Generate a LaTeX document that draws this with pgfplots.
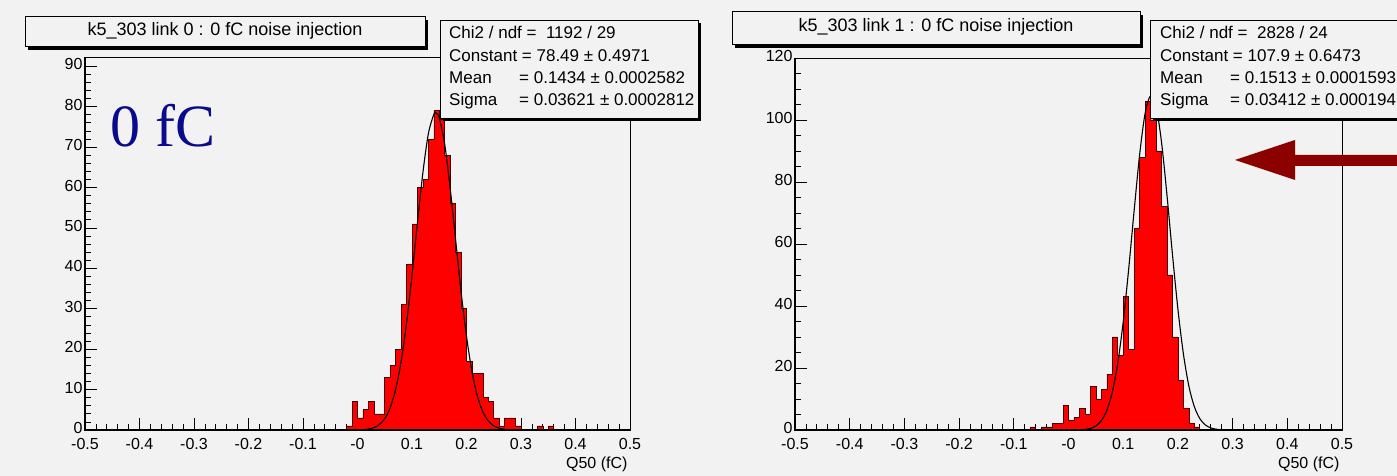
\documentclass[border=0pt]{standalone}
\usepackage{pgfplots}
\pgfplotsset{compat=1.18}
\usepackage{fontspec}
\setmainfont{Liberation Sans}
\newfontfamily\serifbig{Liberation Serif}

\definecolor{padbg}{RGB}{242,242,242}
\definecolor{histred}{RGB}{255,0,0}
\definecolor{histedge}{RGB}{70,0,0}
\definecolor{labelblue}{RGB}{10,10,140}
\definecolor{arrowred}{RGB}{140,0,0}

\newcommand\tickfont{\fontsize{16}{16}\selectfont}
\newcommand\titlefont{\fontsize{18}{18}\selectfont}
\newcommand\statfont{\fontsize{17}{17}\selectfont}

\pgfplotsset{
  rootaxis/.style={
    scale only axis, anchor=south west,
    xmin=-0.5, xmax=0.5, ymin=0,
    axis background/.style={fill=padbg},
    tick align=inside, xtick pos=bottom, ytick pos=left,
    xtick={-0.5,-0.4,-0.3,-0.2,-0.1,0,0.1,0.2,0.3,0.4,0.5},
    xticklabels={-0.5,-0.4,-0.3,-0.2,-0.1,-0,0.1,0.2,0.3,0.4,0.5},
    minor x tick num=4,
    major tick length=12pt, minor tick length=6pt,
    tick style={black, line width=0.8pt},
    axis line style={black, line width=0.7pt},
    tick label style={font=\tickfont},
    /pgf/number format/assume math mode=true,
    xticklabel style={yshift=-5pt},
    yticklabel style={xshift=1pt, yshift=2pt},
  },
  histo/.style={const plot, fill=histred, draw=histedge, line width=0.6pt},
  fitcurve/.style={black, line width=1.1pt, smooth, mark=none},
}

\begin{document}
\begin{tikzpicture}
\path[use as bounding box] (0,0) rectangle (1397pt,476pt);
\clip (0,0) rectangle (1397pt,476pt);
\fill[padbg] (0,0) rectangle (1397pt,476pt);

% ---------------- link 0 ----------------
\begin{axis}[rootaxis, name=L, at={(85pt,46pt)}, width=545pt, height=373pt,
  ymax=92.3, ytick={0,10,...,90}, minor y tick num=4]
\addplot[histo] coordinates {
 (-0.03,0) (-0.02,1) (-0.01,7) (0.00,3) (0.01,5) (0.02,7) (0.03,4) (0.04,4)
 (0.05,13) (0.06,16) (0.07,20) (0.08,31) (0.09,41) (0.10,51) (0.11,60) (0.12,62)
 (0.13,72) (0.14,79) (0.15,77) (0.16,68) (0.17,56) (0.18,44) (0.19,30) (0.20,17)
 (0.21,14) (0.22,14) (0.23,8) (0.24,7) (0.25,3) (0.26,1) (0.27,3) (0.28,3)
 (0.29,1) (0.30,0) (0.31,0) (0.32,0) (0.33,1) (0.34,0) (0.35,1) (0.36,0) (0.37,0)
} \closedcycle;
% Gaussian fit: Constant 78.49, Mean 0.1434, Sigma 0.03621
\addplot[fitcurve] coordinates {
 (0.00,0.03) (0.01,0.09) (0.02,0.24) (0.03,0.58) (0.04,1.33) (0.05,2.82)
 (0.06,5.52) (0.07,10.05) (0.08,16.95) (0.09,26.45) (0.10,38.25) (0.11,51.3)
 (0.12,63.7) (0.13,73.3) (0.14,78.1) (0.1434,78.49) (0.15,77.2) (0.16,70.7)
 (0.17,59.9) (0.18,47.1) (0.19,34.3) (0.20,23.2) (0.21,14.5) (0.22,8.38)
 (0.23,4.50) (0.24,2.24) (0.25,1.03) (0.26,0.44) (0.27,0.17) (0.28,0.06)
};
\end{axis}

% ---------------- link 1 ----------------
\begin{axis}[rootaxis, name=R, at={(795pt,46pt)}, width=547pt, height=372pt,
  ymax=120, ytick={0,20,...,120}, minor y tick num=3]
\addplot[histo] coordinates {
 (-0.08,0) (-0.07,1) (-0.06,0) (-0.05,1) (-0.04,1) (-0.03,2) (-0.02,2) (-0.01,8)
 (0.00,3) (0.01,4) (0.02,7) (0.03,5) (0.04,14) (0.05,10) (0.06,13) (0.07,18)
 (0.08,30) (0.09,24) (0.10,43) (0.11,26) (0.12,65) (0.13,88) (0.14,106) (0.15,100)
 (0.16,90) (0.17,72) (0.18,50) (0.19,30) (0.20,16) (0.21,7) (0.22,2) (0.23,1) (0.24,0)
} \closedcycle;
% Gaussian fit: Constant 107.9, Mean 0.1513, Sigma 0.03412
\addplot[fitcurve] coordinates {
 (0.02,0.07) (0.03,0.19) (0.04,0.53) (0.05,1.31) (0.06,3.01) (0.07,6.31)
 (0.08,12.16) (0.09,21.5) (0.10,34.9) (0.11,51.9) (0.12,70.8) (0.13,88.8)
 (0.14,102.1) (0.15,107.8) (0.16,104.5) (0.17,92.9) (0.18,75.8) (0.19,56.7)
 (0.20,39.0) (0.21,24.6) (0.22,14.2) (0.23,7.55) (0.24,3.68) (0.25,1.65)
 (0.26,0.68) (0.27,0.25) (0.28,0.09)
};
\end{axis}

% heavier left and bottom axis lines
\draw[line width=1.6pt] (L.north west) -- (L.south west) -- (L.south east);
\draw[line width=1.6pt] (R.north west) -- (R.south west) -- (R.south east);

% overlay in pixel-like coordinates, y pointing down
\begin{scope}[x=1pt, y=-1pt, shift={(0pt,476pt)}]
  % axis titles
  \node[font=\tickfont, anchor=base east] at (631,469) {Q50 (fC)};
  \node[font=\tickfont, anchor=base east] at (1343,469) {Q50 (fC)};

  % histogram title boxes
  \fill[black] (28,20) rectangle (428,50);
  \filldraw[fill=padbg, draw=black, line width=0.8pt] (25,16) rectangle (425,46);
  \node[font=\titlefont] at (225,31) {k5\_303 link 0 : 0 fC noise injection};

  \fill[black] (735,15) rectangle (1143,48);
  \filldraw[fill=padbg, draw=black, line width=0.8pt] (732,11) rectangle (1140,44);
  \node[font=\titlefont] at (936,27) {k5\_303 link 1 : 0 fC noise injection};

  % fit statistics, link 0
  \fill[black] (443,23) rectangle (701,121);
  \filldraw[fill=padbg, draw=black, line width=0.8pt] (440,20) rectangle (698,118);
  \begin{scope}[every node/.style={font=\statfont, anchor=base west, inner sep=0pt}]
    \node at (449,39) {Chi2 / ndf =\ \ 1192 / 29};
    \node at (449,62) {Constant = 78.49 ± 0.4971};
    \node at (449,84) {Mean};
    \node at (519,84) {= 0.1434 ± 0.0002582};
    \node at (449,106) {Sigma};
    \node at (519,106) {= 0.03621 ± 0.0002812};
  \end{scope}

  % fit statistics, link 1
  \fill[black] (1153,23) rectangle (1400,121);
  \filldraw[fill=padbg, draw=black, line width=0.8pt] (1150,20) rectangle (1420,118);
  \begin{scope}[every node/.style={font=\statfont, anchor=base west, inner sep=0pt}]
    \node at (1160,39) {Chi2 / ndf =\ \ 2828 / 24};
    \node at (1160,62) {Constant = 107.9 ± 0.6473};
    \node at (1160,84) {Mean};
    \node at (1230,84) {= 0.1513 ± 0.0001593};
    \node at (1160,106) {Sigma};
    \node at (1230,106) {= 0.03412 ± 0.000194};
  \end{scope}

  % charge label
  \node[anchor=base west, inner sep=0pt, text=labelblue,
        font=\serifbig\fontsize{60}{60}\selectfont] at (110,147) {0 fC};

  % pointer
  \fill[arrowred] (1235,160) -- (1295,140) -- (1295,155) -- (1400,155)
        -- (1400,166) -- (1295,166) -- (1295,180) -- cycle;
\end{scope}
\end{tikzpicture}
\end{document}
